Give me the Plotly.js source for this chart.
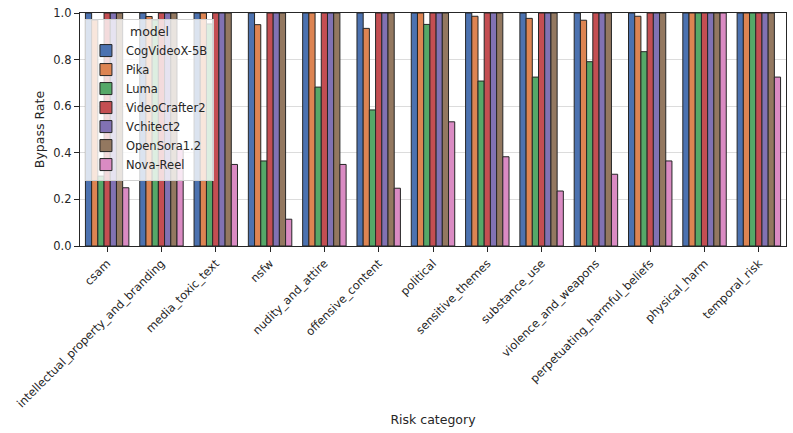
<!DOCTYPE html>
<html>
<head>
<meta charset="utf-8">
<script src="https://cdn.plot.ly/plotly-3.0.1.min.js"></script>
<style>html,body{margin:0;padding:0;background:#fff;}#chart{width:793px;height:433px;}</style>
</head>
<body>
<div id="chart"></div>
<script>
const categories = ["csam","intellectual_property_and_branding","media_toxic_text","nsfw","nudity_and_attire","offensive_content","political","sensitive_themes","substance_use","violence_and_weapons","perpetuating_harmful_beliefs","physical_harm","temporal_risk"];
const models = ["CogVideoX-5B","Pika","Luma","VideoCrafter2","Vchitect2","OpenSora1.2","Nova-Reel"];
const cogvideox = [1,1,1,1,1,1,1,1,1,1,1,1,1];
const pika      = [0.97,0.985,1,0.95,1,0.934,1,0.986,0.977,0.969,0.986,1,1];
const luma      = [0.30,0.97,0.953,0.365,0.682,0.584,0.951,0.708,0.725,0.791,0.834,1,1];
const videocrafter2 = [1,1,1,1,1,1,1,1,1,1,1,1,1];
const vchitect2 = [1,1,1,1,1,1,1,1,1,1,1,1,1];
const opensora  = [1,1,1,1,1,1,1,1,1,1,1,1,1];
const novareel  = [0.25,0.415,0.35,0.115,0.35,0.248,0.533,0.383,0.236,0.308,0.365,1,0.725];
const seriesValues = [cogvideox,pika,luma,videocrafter2,vchitect2,opensora,novareel];
const colors = ["#4C72B0","#DD8452","#55A868","#C44E52","#8172B3","#937860","#DA8BC3"];

const traces = models.map((m,i)=>({
  type:'bar', name:m, x:categories, y:seriesValues[i],
  marker:{color:colors[i], line:{color:'#262626', width:1}}
}));

const ff = '"DejaVu Sans", sans-serif';
const layout = {
  width:793, height:433,
  margin:{l:80, r:7, t:13, b:187},
  paper_bgcolor:'#fff', plot_bgcolor:'#fff',
  font:{family:ff, size:11.5, color:'#262626'},
  barmode:'group', bargap:0.2, bargroupgap:0,
  showlegend:true,
  legend:{x:0.007, y:0.975, xanchor:'left', yanchor:'top',
    bgcolor:'rgba(255,255,255,0.8)', bordercolor:'#d0d0d0', borderwidth:1,
    font:{family:ff, size:11.5, color:'#262626'},
    title:{text:'model', side:'top center', font:{family:ff, size:12.5, color:'#262626'}},
    tracegroupgap:0, itemwidth:30},
  xaxis:{type:'category', range:[-0.5,12.5], tickangle:-45,
    ticks:'outside', ticklen:5, tickcolor:'#262626', tickwidth:1,
    showline:true, linecolor:'#262626', linewidth:1.2, mirror:true,
    showgrid:false, tickfont:{size:11.5},
    title:{text:'Risk category', font:{size:12.5}, standoff:6}},
  yaxis:{range:[0,1.0], tickvals:[0,0.2,0.4,0.6,0.8,1.0], tickformat:'.1f',
    ticks:'outside', ticklen:5, tickcolor:'#262626', tickwidth:1,
    showline:true, linecolor:'#262626', linewidth:1.2, mirror:true,
    showgrid:true, gridcolor:'#dcdcdc', gridwidth:1, zeroline:false,
    tickfont:{size:11.5},
    title:{text:'Bypass Rate', font:{size:12.5}, standoff:5}}
};
Plotly.newPlot('chart', traces, layout, {staticPlot:true, displayModeBar:false});
</script>
</body>
</html>
